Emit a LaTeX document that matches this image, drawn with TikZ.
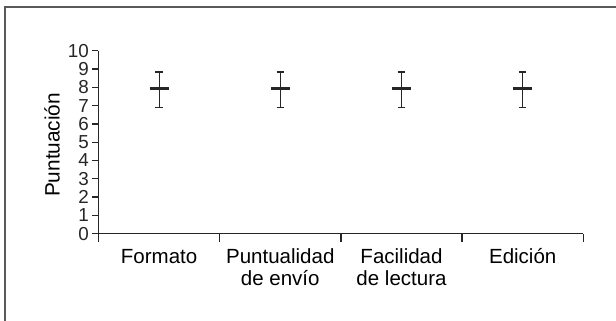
\documentclass[tikz,border=0pt]{standalone}
\usepackage{fontspec}
\setmainfont{Liberation Sans}
\begin{document}
\begin{tikzpicture}[x=60.6pt, y=9.15pt,
    axis/.style={line width=0.65pt, black!85},
    whisker/.style={line width=0.6pt, black!85},
    meanbar/.style={line width=1.5pt, black!85},
    ticklab/.style={inner sep=1.5pt, font=\fontsize{9.4}{9.4}\selectfont},
    catlab/.style={align=center, anchor=base, yshift=-15.15pt, font=\fontsize{10.25}{11}\selectfont},
    catlabtwo/.style={catlab, yshift=-11pt}]
            \def\xl{-0.8127};
            \def\xr{4.2698};
            \def\yb{-4.77};
            \def\yt{12.77};

            \def\xf{-0.7715};
            \def\yf{12.37};

            \def\cap{0.031};
            \def\bar{0.078};

            \useasboundingbox (\xl, \yb) rectangle (\xr, \yt);
            \draw[line width=1pt, black!65] (\xf, \yb-2) -- (\xf, \yf) -- (\xr+1, \yf);

            % axes
            \coordinate (o) at (0, 0);
            \coordinate (ytop) at (0, 10);
            \coordinate (xend) at (4, 0);
            \draw[axis] (ytop) -- (o) -- (xend);

            \foreach \v in {0,...,10}
                \draw[axis] (0, \v) -- ++(-3pt, 0) node[left, ticklab] (t\v) {\v};

            \foreach \i in {0,...,4}
                \draw[axis] (\i, 0) -- ++(0, -4.3pt);

            \node[rotate=90, font=\fontsize{10.4}{11}\selectfont] (ylab) at (-0.384, 4.85) {Puntuación};

            % categories
            \node[catlab] (c0) at (0.5, 0) {Formato};
            \node[catlabtwo] (c1) at (1.5, 0) {Puntualidad\\de envío};
            \node[catlabtwo] (c2) at (2.5, 0) {Facilidad\\de lectura};
            \node[catlab] (c3) at (3.5, 0) {Edición};

            % means and ranges
            \foreach \i in {0,...,3} {
                \coordinate (u\i) at (\i+0.5, 8.83);
                \coordinate (m\i) at (\i+0.5, 7.95);
                \coordinate (l\i) at (\i+0.5, 6.88);
                \draw[whisker] (u\i) -- (l\i);
                \draw[whisker] ([xshift=-\cap*60.6pt]u\i) -- ([xshift=\cap*60.6pt]u\i);
                \draw[whisker] ([xshift=-\cap*60.6pt]l\i) -- ([xshift=\cap*60.6pt]l\i);
                \draw[meanbar] ([xshift=-\bar*60.6pt]m\i) -- ([xshift=\bar*60.6pt]m\i);
            }
        \end{tikzpicture}
\end{document}
